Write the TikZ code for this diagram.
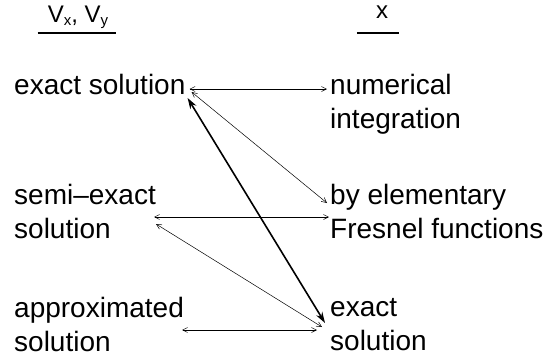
\documentclass[tikz,border=0pt]{standalone}
\usepackage{fontspec}
\setmainfont{Liberation Sans}
\usetikzlibrary{arrows.meta, calc}
\newcommand{\lowidx}[1]{\raisebox{-3pt}{\fontsize{15}{15}\selectfont #1}}
\tikzset{
  entry/.style={anchor=base west, inner sep=0pt, align=left, font=\fontsize{28}{34}\selectfont},
  header/.style={anchor=base, inner sep=0pt, font=\fontsize{24}{28}\selectfont},
  rule/.style={line width=2pt},
  link/.style={{Straight Barb[length=5pt,width=5pt]}-{Straight Barb[length=5pt,width=5pt]}, line width=0.5pt},
  strong/.style={{Stealth[length=11pt,width=7pt]}-{Stealth[length=11pt,width=7pt]}, line width=1.6pt},
}

\begin{document}
\begin{tikzpicture}[x=1pt, y=-1pt]
\useasboundingbox (0,0) rectangle (555,362);

% column headers
\node[header] (hdrV) at (78,22) {V\lowidx{x}, V\lowidx{y}};
\node[header] (hdrX) at (382,18) {x};
\draw[rule] ($(hdrV.base west)+(-10,11)$) -- ($(hdrV.base east)+(8,11)$);
\draw[rule] ($(hdrX.base west)+(-19,15)$) -- ($(hdrX.base east)+(11,15)$);

% left column (base = last line)
\node[entry] (exactL) at (14,94) {exact solution};
\node[entry] (semiL) at (14,238) {semi--exact\\solution};
\node[entry] (approxL) at (14,351) {approximated\\solution};

% right column
\node[entry] (numR) at (330,128) {numerical\\integration};
\node[entry] (fresR) at (330,238) {by elementary\\Fresnel functions};
\node[entry] (exactR) at (330,350) {exact\\solution};

\draw[link] ($(exactL.base east)+(4,-5)$) -- ($(numR.base west)+(-3,-39)$);
\draw[link] ($(exactL.base east)+(6,-2)$) -- ($(fresR.base west)+(-3,-35)$);
\draw[strong] ($(exactL.base east)+(2,4)$) -- ($(exactR.base west)+(-5,-27)$);
\draw[link] ($(semiL.base east)+(-2,-21)$) -- ($(fresR.base west)+(-1,-21)$);
\draw[link] ($(semiL.base east)+(0,-14)$) -- ($(exactR.base west)+(-8,-23)$);
\draw[link] ($(approxL.base east)+(-2,-21)$) -- ($(exactR.base west)+(-13,-20)$);

\end{tikzpicture}
\end{document}
